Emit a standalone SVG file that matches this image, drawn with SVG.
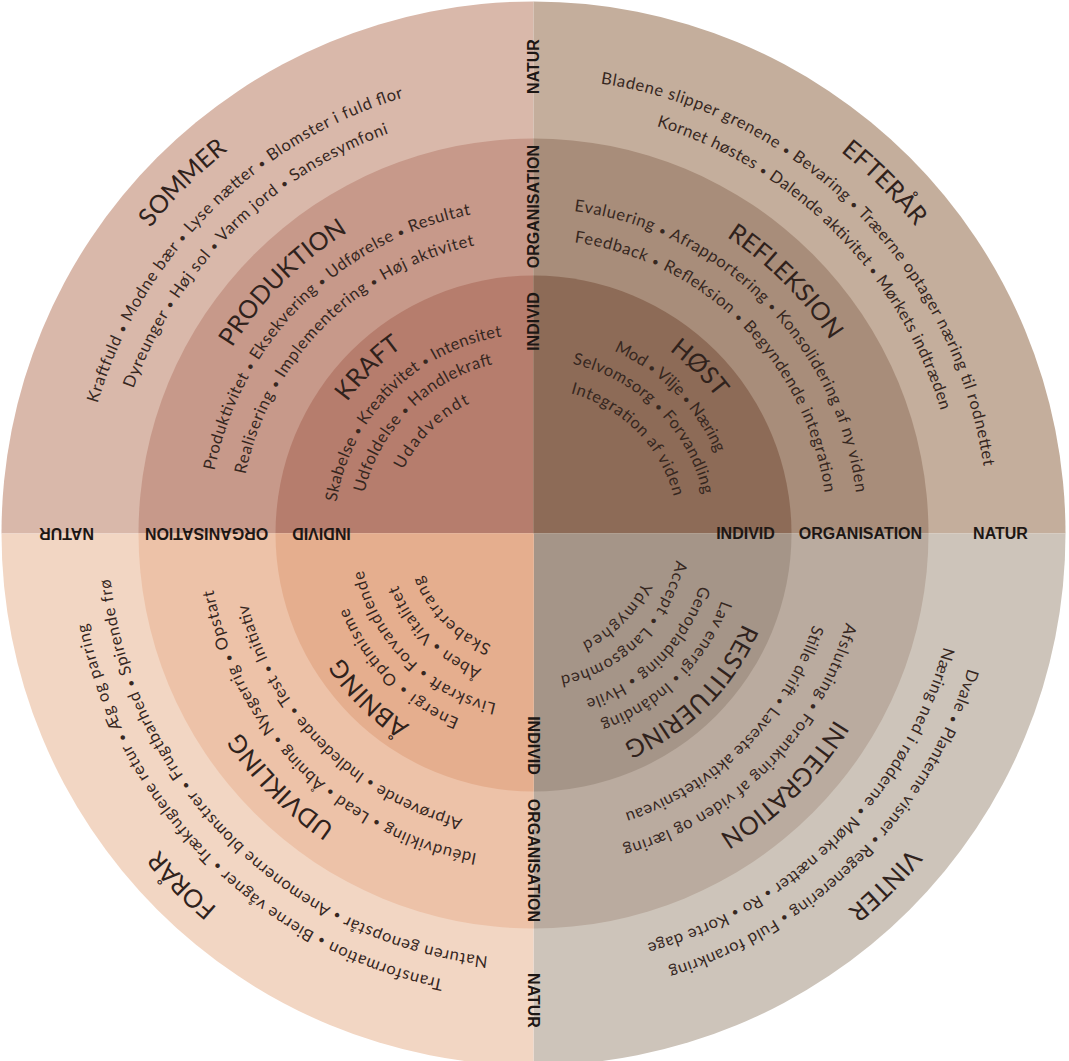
<svg xmlns="http://www.w3.org/2000/svg" width="1069" height="1061" viewBox="0 0 1069 1061">
<style>
.t{font-family:Lato,"Open Sans","Liberation Sans",sans-serif;font-size:16.5px;fill:#36271f;text-anchor:middle}
.h{font-family:Lato,"Open Sans","Liberation Sans",sans-serif;font-size:25px;fill:#30221c;text-anchor:middle}
.b{font-size:12px}
.ax{font-family:"Liberation Sans",Arial,sans-serif;font-weight:700;font-size:16px;fill:#1d1714;text-anchor:middle}
</style>
<defs>
<path id="r490" d="M-488.14 -42.71A490 490 0 0 1 488.14 -42.71"/>
<path id="r455" d="M-453.27 -39.66A455 455 0 0 1 453.27 -39.66"/>
<path id="r425" d="M-423.88 -37.09A425.5 425.5 0 0 1 423.88 -37.09"/>
<path id="r354" d="M-352.65 -30.85A354 354 0 0 1 352.65 -30.85"/>
<path id="r325" d="M-323.76 -28.33A325 325 0 0 1 323.76 -28.33"/>
<path id="r294" d="M-292.88 -25.63A294 294 0 0 1 292.88 -25.63"/>
<path id="r228" d="M-227.13 -19.87A228 228 0 0 1 227.13 -19.87"/>
<path id="r199" d="M-198.74 -17.39A199.5 199.5 0 0 1 198.74 -17.39"/>
<path id="r174" d="M-173.34 -15.17A174 174 0 0 1 173.34 -15.17"/>
<path id="r145" d="M-144.45 -12.64A145 145 0 0 1 144.45 -12.64"/>
<path id="r119" d="M-118.55 -10.37A119 119 0 0 1 118.55 -10.37"/>
</defs>
<rect width="1069" height="1061" fill="#ffffff"/>
<g transform="translate(533.5 533.5)">
  <g id="sommer">
    <path d="M0 0L-532 0A532 532 0 0 1 0 -532Z" fill="#d9b8aa"/>
    <path d="M0 0L-395 0A395 395 0 0 1 0 -395Z" fill="#c7998a"/>
    <path d="M0 0L-258 0A258 258 0 0 1 0 -258Z" fill="#b67d6d"/>
    <g transform="rotate(-45)">
      <text class="h"><textPath href="#r490" startOffset="50%">SOMMER</textPath></text>
      <text class="t"><textPath href="#r455" startOffset="50%" textLength="451" lengthAdjust="spacing">Kraftfuld <tspan class="b">•</tspan> Modne bær <tspan class="b">•</tspan> Lyse nætter <tspan class="b">•</tspan> Blomster i fuld flor</textPath></text>
      <text class="t"><textPath href="#r425" startOffset="50%" textLength="373" lengthAdjust="spacing">Dyreunger <tspan class="b">•</tspan> Høj sol <tspan class="b">•</tspan> Varm jord <tspan class="b">•</tspan> Sansesymfoni</textPath></text>
      <text class="h"><textPath href="#r354" startOffset="50%">PRODUKTION</textPath></text>
      <text class="t"><textPath href="#r325" startOffset="50%" textLength="384" lengthAdjust="spacing">Produktivitet <tspan class="b">•</tspan> Eksekvering <tspan class="b">•</tspan> Udførelse <tspan class="b">•</tspan> Resultat</textPath></text>
      <text class="t"><textPath href="#r294" startOffset="50%" textLength="343" lengthAdjust="spacing">Realisering <tspan class="b">•</tspan> Implementering <tspan class="b">•</tspan> Høj aktivitet</textPath></text>
      <text class="h"><textPath href="#r228" startOffset="50%">KRAFT</textPath></text>
      <text class="t"><textPath href="#r199" startOffset="50%" textLength="250" lengthAdjust="spacing">Skabelse <tspan class="b">•</tspan> Kreativitet <tspan class="b">•</tspan> Intensitet</textPath></text>
      <text class="t"><textPath href="#r174" startOffset="50%" textLength="191" lengthAdjust="spacing">Udfoldelse <tspan class="b">•</tspan> Handlekraft</textPath></text>
      <text class="t"><textPath href="#r145" startOffset="50%" textLength="96" lengthAdjust="spacing">Udadvendt</textPath></text>
    </g>
  </g>
  <g id="efteraar">
    <path d="M0 0L0 -532A532 532 0 0 1 532 0Z" fill="#c4ae9c"/>
    <path d="M0 0L0 -395A395 395 0 0 1 395 0Z" fill="#a88d7a"/>
    <path d="M0 0L0 -258A258 258 0 0 1 258 0Z" fill="#8d6b57"/>
    <g transform="rotate(45)">
      <text class="h"><textPath href="#r490" startOffset="50%">EFTERÅR</textPath></text>
      <text class="t"><textPath href="#r455" startOffset="50%" textLength="580" lengthAdjust="spacing">Bladene slipper grenene <tspan class="b">•</tspan> Bevaring <tspan class="b">•</tspan> Træerne optager næring til rodnettet</textPath></text>
      <text class="t"><textPath href="#r425" startOffset="50%" textLength="419" lengthAdjust="spacing">Kornet høstes <tspan class="b">•</tspan> Dalende aktivitet <tspan class="b">•</tspan> Mørkets indtræden</textPath></text>
      <text class="h"><textPath href="#r354" startOffset="50%">REFLEKSION</textPath></text>
      <text class="t"><textPath href="#r325" startOffset="50%" textLength="429" lengthAdjust="spacing">Evaluering <tspan class="b">•</tspan> Afrapportering <tspan class="b">•</tspan> Konsolidering af ny viden</textPath></text>
      <text class="t"><textPath href="#r294" startOffset="50%" textLength="380" lengthAdjust="spacing">Feedback <tspan class="b">•</tspan> Refleksion <tspan class="b">•</tspan> Begyndende integration</textPath></text>
      <text class="h"><textPath href="#r228" startOffset="50%">HØST</textPath></text>
      <text class="t"><textPath href="#r199" startOffset="50%" textLength="148" lengthAdjust="spacing">Mod <tspan class="b">•</tspan> Vilje <tspan class="b">•</tspan> Næring</textPath></text>
      <text class="t"><textPath href="#r174" startOffset="50%" textLength="195" lengthAdjust="spacing">Selvomsorg <tspan class="b">•</tspan> Forvandling</textPath></text>
      <text class="t"><textPath href="#r145" startOffset="50%" textLength="153" lengthAdjust="spacing">Integration af viden</textPath></text>
    </g>
  </g>
  <g id="vinter">
    <path d="M0 0L532 0A532 532 0 0 1 0 532Z" fill="#cdc4ba"/>
    <path d="M0 0L395 0A395 395 0 0 1 0 395Z" fill="#baab9f"/>
    <path d="M0 0L258 0A258 258 0 0 1 0 258Z" fill="#a59588"/>
    <g transform="rotate(135)">
      <text class="h"><textPath href="#r490" startOffset="50%">VINTER</textPath></text>
      <text class="t"><textPath href="#r455" startOffset="50%" textLength="441" lengthAdjust="spacing">Dvale <tspan class="b">•</tspan> Planterne visner <tspan class="b">•</tspan> Regenerering <tspan class="b">•</tspan> Fuld forankring</textPath></text>
      <text class="t"><textPath href="#r425" startOffset="50%" textLength="439" lengthAdjust="spacing">Næring ned i rødderne <tspan class="b">•</tspan> Mørke nætter <tspan class="b">•</tspan> Ro <tspan class="b">•</tspan> Korte dage</textPath></text>
      <text class="h"><textPath href="#r354" startOffset="50%">INTEGRATION</textPath></text>
      <text class="t"><textPath href="#r325" startOffset="50%" textLength="330" lengthAdjust="spacing">Afslutning <tspan class="b">•</tspan> Forankring af viden og læring</textPath></text>
      <text class="t"><textPath href="#r294" startOffset="50%" textLength="276" lengthAdjust="spacing">Stille drift <tspan class="b">•</tspan> Laveste aktivitetsniveau</textPath></text>
      <text class="h"><textPath href="#r228" startOffset="50%">RESTITUERING</textPath></text>
      <text class="t"><textPath href="#r199" startOffset="50%" textLength="177" lengthAdjust="spacing">Lav energi <tspan class="b">•</tspan> Indånding</textPath></text>
      <text class="t"><textPath href="#r174" startOffset="50%" textLength="168" lengthAdjust="spacing">Genopladning <tspan class="b">•</tspan> Hvile</textPath></text>
      <text class="t"><textPath href="#r145" startOffset="50%" textLength="174" lengthAdjust="spacing">Accept <tspan class="b">•</tspan> Langsomhed</textPath></text>
      <text class="t"><textPath href="#r119" startOffset="50%" textLength="87" lengthAdjust="spacing">Ydmyghed</textPath></text>
    </g>
  </g>
  <g id="foraar">
    <path d="M0 0L0 532A532 532 0 0 1 -532 0Z" fill="#f2d6c3"/>
    <path d="M0 0L0 395A395 395 0 0 1 -395 0Z" fill="#edc2a8"/>
    <path d="M0 0L0 258A258 258 0 0 1 -258 0Z" fill="#e5ae8e"/>
    <g transform="rotate(225)">
      <text class="h"><textPath href="#r490" startOffset="50%">FORÅR</textPath></text>
      <text class="t"><textPath href="#r455" startOffset="50%" textLength="534" lengthAdjust="spacing">Transformation <tspan class="b">•</tspan> Bierne vågner <tspan class="b">•</tspan> Trækfuglene retur <tspan class="b">•</tspan> Æg og parring</textPath></text>
      <text class="t"><textPath href="#r425" startOffset="50%" textLength="577" lengthAdjust="spacing">Naturen genopstår <tspan class="b">•</tspan> Anemonerne blomstrer <tspan class="b">•</tspan> Frugtbarhed <tspan class="b">•</tspan> Spirende frø</textPath></text>
      <text class="h"><textPath href="#r354" startOffset="50%">UDVIKLING</textPath></text>
      <text class="t"><textPath href="#r325" startOffset="50%" textLength="397" lengthAdjust="spacing">Idéudvikling <tspan class="b">•</tspan> Lead <tspan class="b">•</tspan> Åbning <tspan class="b">•</tspan> Nysgerrig <tspan class="b">•</tspan> Opstart</textPath></text>
      <text class="t"><textPath href="#r294" startOffset="50%" textLength="319" lengthAdjust="spacing">Afprøvende <tspan class="b">•</tspan> Indledende <tspan class="b">•</tspan> Test <tspan class="b">•</tspan> Initiativ</textPath></text>
      <text class="h"><textPath href="#r228" startOffset="50%">ÅBNING</textPath></text>
      <text class="t"><textPath href="#r199" startOffset="50%" textLength="162" lengthAdjust="spacing">Energi <tspan class="b">•</tspan> Optimisme</textPath></text>
      <text class="t"><textPath href="#r174" startOffset="50%" textLength="199" lengthAdjust="spacing">Livskraft <tspan class="b">•</tspan> Forvandlende</textPath></text>
      <text class="t"><textPath href="#r145" startOffset="50%" textLength="122" lengthAdjust="spacing">Åben <tspan class="b">•</tspan> Vitalitet</textPath></text>
      <text class="t"><textPath href="#r119" startOffset="50%" textLength="101" lengthAdjust="spacing">Skabertrang</textPath></text>
    </g>
  </g>
  <g id="axis-labels">
    <g>
      <text class="ax" x="212" y="5.7">INDIVID</text>
      <text class="ax" x="327" y="5.7">ORGANISATION</text>
      <text class="ax" x="467" y="5.7">NATUR</text>
    </g>
    <g transform="rotate(90)">
      <text class="ax" x="212" y="5.7">INDIVID</text>
      <text class="ax" x="327" y="5.7">ORGANISATION</text>
      <text class="ax" x="467" y="5.7">NATUR</text>
    </g>
    <g transform="rotate(180)">
      <text class="ax" x="212" y="5.7">INDIVID</text>
      <text class="ax" x="327" y="5.7">ORGANISATION</text>
      <text class="ax" x="467" y="5.7">NATUR</text>
    </g>
    <g transform="rotate(270)">
      <text class="ax" x="212" y="5.7">INDIVID</text>
      <text class="ax" x="327" y="5.7">ORGANISATION</text>
      <text class="ax" x="467" y="5.7">NATUR</text>
    </g>
  </g>
</g>
</svg>
